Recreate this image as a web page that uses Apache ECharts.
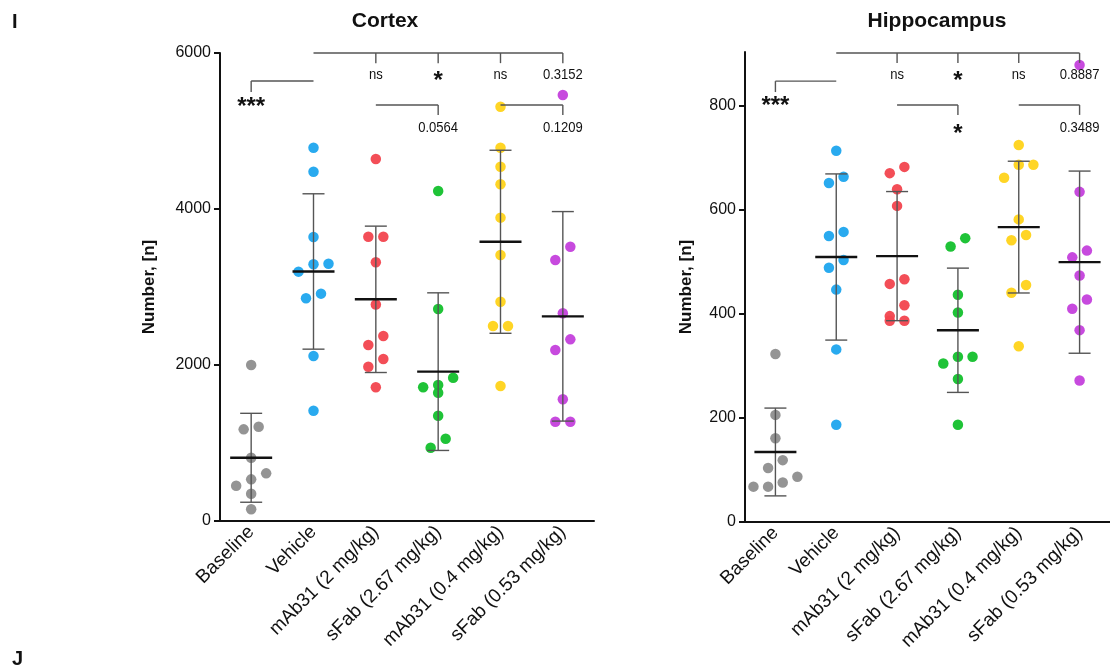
<!DOCTYPE html>
<html><head><meta charset="utf-8">
<script src="https://cdn.jsdelivr.net/npm/echarts@6/dist/echarts.min.js"></script>
<style>html,body{margin:0;padding:0;background:#fff}#c{width:1110px;height:669px}</style>
</head><body><div id="c"></div>
<script>
const categories = ['Baseline','Vehicle','mAb31 (2 mg/kg)','sFab (2.67 mg/kg)','mAb31 (0.4 mg/kg)','sFab (0.53 mg/kg)'];
const cortexBaseline = [2000,1209,1175,812,611,534,453,350,150];
const cortexVehicle = [4786,4478,3641,3299,3291,3197,2915,2855,2115,1414];
const cortexMab2 = [4641,3645,3645,3317,2775,2372,2256,2077,1978,1714];
const cortexSfab267 = [4231,2718,1837,1744,1714,1645,1350,1055,940];
const cortexMab04 = [5312,4786,4542,4317,3889,3410,2812,2500,2500,1731];
const cortexSfab053 = [5462,3517,3346,2663,2329,2192,1560,1273,1273];
const hippoBaseline = [323,206,161,119,104,87,76,68,68];
const hippoVehicle = [714,664,652,558,550,504,489,447,332,187];
const hippoMab2 = [683,671,640,608,467,458,417,396,387,387];
const hippoSfab267 = [546,530,437,403,318,318,305,275,187];
const hippoMab04 = [725,687,687,662,582,552,542,456,441,338];
const hippoSfab053 = [879,635,522,509,474,428,410,369,272];
const cortexTicks = [0,2000,4000,6000];
const hippoTicks = [0,200,400,600,800];
// significance brackets: [fromCat, toCat, level, dropCats, dropEnd]
const cortexBrackets = [[0,1,5641,[0],5500],[1,5,6000,[2,3,4,5],5870],[2,3,5333,[3],5205],[4,5,5333,[5],5205]];
const cortexLabels = [[0,5385,'***'],[2,5718,'ns'],[3,5718,'*'],[4,5718,'ns'],[5,5718,'0.3152'],[3,5038,'0.0564'],[5,5038,'0.1209']];
const hippoBrackets = [[0,1,848,[0],827],[1,5,902,[2,3,4,5],883],[2,3,802,[3],783],[4,5,802,[5],783]];
const hippoLabels = [[0,810,'***'],[2,860,'ns'],[3,860,'*'],[4,860,'ns'],[5,860,'0.8887'],[3,758,'*'],[5,758,'0.3489']];

const colors = ['#8e8e8e','#1ea5ee','#f2444e','#13c02c','#ffd319','#c440dc'];
const FONT = '"Liberation Sans", Arial, sans-serif';
const cortexGroups = [cortexBaseline,cortexVehicle,cortexMab2,cortexSfab267,cortexMab04,cortexSfab053];
const hippoGroups = [hippoBaseline,hippoVehicle,hippoMab2,hippoSfab267,hippoMab04,hippoSfab053];

const GRID_H = [468, 470];
const BAND = 62.33;
const YMAX = [6000, 904];

function swarm(values, cat, pxPerUnit){
  const s = values.slice().sort((a,b)=>b-a);
  const out = []; let i = 0;
  while(i < s.length){
    let j = i+1;
    while(j < s.length && (s[i]-s[j])*pxPerUnit < 14) j++;
    const n = j-i;
    for(let k=0;k<n;k++){
      const off = ((n-1)/2 - k)*15/BAND;
      out.push([cat+off, s[i+k]]);
    }
    i = j;
  }
  return out;
}
function stats(v){
  const m = v.reduce((a,b)=>a+b,0)/v.length;
  const sd = Math.sqrt(v.reduce((a,b)=>a+(b-m)*(b-m),0)/(v.length-1));
  return [m, sd];
}

const series = [];
function addPanel(groups, gi, brackets, labels){
  const ppu = GRID_H[gi]/YMAX[gi];
  groups.forEach((g, ci)=>{
    series.push({
      type:'scatter', xAxisIndex:2+gi, yAxisIndex:gi,
      data: swarm(g, ci, ppu), symbolSize:10.5,
      itemStyle:{color:colors[ci], opacity:0.95}, z:2, silent:true
    });
  });
  series.push({
    type:'custom', xAxisIndex:2+gi, yAxisIndex:gi, z:5, silent:true,
    data: groups.map((g,ci)=>{const st=stats(g); return [ci, st[0], st[1]];}),
    renderItem(params, api){
      const x=api.value(0), m=api.value(1), s=api.value(2);
      const c=api.coord([x,m]), t=api.coord([x,m+s]), b=api.coord([x,m-s]);
      const ls={stroke:'#555',lineWidth:1.4};
      return {type:'group', children:[
        {type:'line', shape:{x1:c[0],y1:t[1],x2:c[0],y2:b[1]}, style:ls},
        {type:'line', shape:{x1:c[0]-11,y1:t[1],x2:c[0]+11,y2:t[1]}, style:ls},
        {type:'line', shape:{x1:c[0]-11,y1:b[1],x2:c[0]+11,y2:b[1]}, style:ls},
        {type:'line', shape:{x1:c[0]-21,y1:c[1],x2:c[0]+21,y2:c[1]}, style:{stroke:'#111',lineWidth:2.4}}
      ]};
    }
  });
  series.push({
    type:'custom', xAxisIndex:2+gi, yAxisIndex:gi, z:6, silent:true,
    data: brackets.map(b=>[b[0], b[2]]),
    renderItem(params, api){
      const b = brackets[params.dataIndex];
      const p1=api.coord([b[0],b[2]]), p2=api.coord([b[1],b[2]]);
      const ls={stroke:'#555',lineWidth:1.4};
      const ch=[{type:'line', shape:{x1:p1[0],y1:p1[1],x2:p2[0],y2:p2[1]}, style:ls}];
      b[3].forEach(d=>{
        const a=api.coord([d,b[2]]), e=api.coord([d,b[4]]);
        ch.push({type:'line', shape:{x1:a[0],y1:a[1],x2:e[0],y2:e[1]}, style:ls});
      });
      return {type:'group', children:ch};
    }
  });
  series.push({
    type:'custom', xAxisIndex:2+gi, yAxisIndex:gi, z:6, silent:true,
    data: labels.map(l=>[l[0], l[1]]),
    renderItem(params, api){
      const l = labels[params.dataIndex];
      const p = api.coord([l[0], l[1]]);
      const star = l[2].indexOf('*')>=0;
      return {type:'text', x:p[0], y:p[1] + (star?6:0), scaleX: star?1:0.87, style:{
        text:l[2], x:0, y:0, align:'center', verticalAlign:'middle',
        font: star ? ('bold 24px '+FONT) : ('15px '+FONT), fill:'#111'
      }};
    }
  });
}
addPanel(cortexGroups, 0, cortexBrackets, cortexLabels);
addPanel(hippoGroups, 1, hippoBrackets, hippoLabels);

function catAxis(gi){
  return {type:'category', gridIndex:gi, data:categories, boundaryGap:true,
    axisLine:{onZero:false, lineStyle:{color:'#111',width:2}},
    axisTick:{alignWithLabel:true, length:6, lineStyle:{color:'#111',width:2}},
    axisLabel:{rotate:45, fontSize:19, color:'#111', fontFamily:FONT, margin:8, interval:0}};
}
function valX(gi){ return {type:'value', gridIndex:gi, min:-0.5, max:5.5, show:false, axisLine:{onZero:false}}; }
function yAxis(gi, max, interval, ticks, gap){
  const a = {type:'value', gridIndex:gi, min:0, max:max, position:'left',
    name:'Number, [n]', nameLocation:'middle', nameGap:gap,
    nameTextStyle:{fontSize:17, fontWeight:'bold', color:'#111', fontFamily:FONT},
    axisLine:{show:true, onZero:false, lineStyle:{color:'#111',width:2}},
    axisTick:{show:true, length:6, lineStyle:{color:'#111',width:2}, customValues:ticks},
    axisLabel:{fontSize:16, color:'#111', fontFamily:FONT, margin:9, customValues:ticks,
      formatter:(v)=>String(v)},
    splitLine:{show:false}};
  if(interval) a.interval = interval;
  return a;
}

const chart = echarts.init(document.getElementById('c'), null, {renderer:'canvas'});
chart.setOption({
  backgroundColor:'#fff',
  animation:false,
  title:[
    {text:'Cortex', left:380, top:6, textAlign:'center', textStyle:{fontSize:21, fontWeight:'bold', color:'#111', fontFamily:FONT}},
    {text:'Hippocampus', left:932, top:6, textAlign:'center', textStyle:{fontSize:21, fontWeight:'bold', color:'#111', fontFamily:FONT}},
    {text:'I', left:7, top:7, textStyle:{fontSize:20, fontWeight:'bold', color:'#111', fontFamily:FONT}},
    {text:'J', left:7, top:644, textStyle:{fontSize:20, fontWeight:'bold', color:'#111', fontFamily:FONT}}
  ],
  grid:[
    {left:220, top:53, width:374, height:GRID_H[0]},
    {left:745, top:52, width:374, height:GRID_H[1]}
  ],
  xAxis:[catAxis(0), catAxis(1), valX(0), valX(1)],
  yAxis:[yAxis(0, 6000, 2000, cortexTicks, 62), yAxis(1, 904, null, hippoTicks, 50)],
  series:series
});
</script></body></html>
